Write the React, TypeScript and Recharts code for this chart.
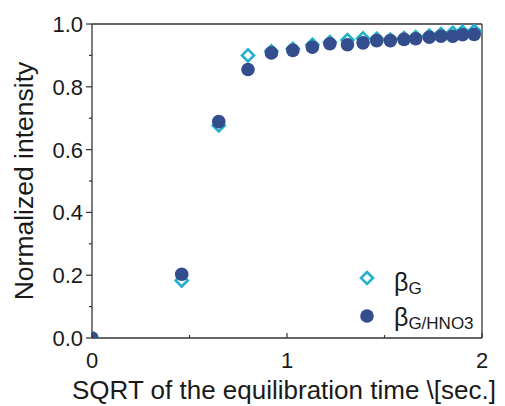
import React from 'react';
import { ScatterChart, Scatter, XAxis, YAxis, ReferenceLine, Legend, Label } from 'recharts';

const xValues = [0, 0.46, 0.65, 0.8, 0.92, 1.03, 1.13, 1.22, 1.31, 1.39, 1.46, 1.53, 1.6, 1.66, 1.73, 1.79, 1.85, 1.9, 1.96];
const betaG = [0, 0.183, 0.677, 0.9, 0.913, 0.921, 0.934, 0.942, 0.949, 0.954, 0.953, 0.95, 0.955, 0.958, 0.963, 0.968, 0.972, 0.975, 0.978];
const betaGHNO3 = [0, 0.203, 0.689, 0.855, 0.908, 0.916, 0.926, 0.937, 0.934, 0.94, 0.947, 0.947, 0.951, 0.953, 0.958, 0.961, 0.961, 0.966, 0.967];

const xTicks = [0, 0.5, 1, 1.5, 2];
const xMajor = [0, 1, 2];
const yTicks = [0, 0.1, 0.2, 0.3, 0.4, 0.5, 0.6, 0.7, 0.8, 0.9, 1.0];
const yMajor = [0, 0.2, 0.4, 0.6, 0.8, 1.0];

const seriesG = xValues.map((x, i) => ({ x, y: betaG[i] }));
const seriesGH = xValues.map((x, i) => ({ x, y: betaGHNO3[i] }));

const CYAN = '#22b0cb';
const NAVY = '#344d8d';
const AXIS = '#333333';
const FONT = '"Liberation Sans", Arial, sans-serif';

const Diamond = (props: any) => {
  const { cx, cy } = props;
  const r = 6;
  return (
    <path
      d={`M${cx},${cy - r} L${cx + r},${cy} L${cx},${cy + r} L${cx - r},${cy} Z`}
      fill="#ffffff"
      stroke={CYAN}
      strokeWidth={2.6}
    />
  );
};

const Dot = (props: any) => {
  const { cx, cy } = props;
  return <circle cx={cx} cy={cy} r={6.8} fill={NAVY} />;
};

const isMajor = (v: number, list: number[]) => list.some((m) => Math.abs(m - v) < 1e-6);

const XTick = (props: any) => {
  const { x, y, payload } = props;
  const major = isMajor(payload.value, xMajor);
  return (
    <g>
      <line x1={x} y1={y} x2={x} y2={y - (major ? 5 : 3)} stroke={AXIS} strokeWidth={1.2} />
      {major && (
        <text x={x} y={y + 30} textAnchor="middle" fontSize={22} fill="#1a1a1a" fontFamily={FONT}>
          {String(payload.value)}
        </text>
      )}
    </g>
  );
};

const YTick = (props: any) => {
  const { x, y, payload } = props;
  const major = isMajor(payload.value, yMajor);
  return (
    <g>
      <line x1={x} y1={y} x2={x - (major ? 6 : 3)} y2={y} stroke={AXIS} strokeWidth={1.2} />
      {major && (
        <text x={x - 9} y={y + 8} textAnchor="end" fontSize={22} fill="#1a1a1a" fontFamily={FONT}>
          {payload.value.toFixed(1)}
        </text>
      )}
    </g>
  );
};

const LegendContent = () => (
  <svg width={150} height={80} style={{ overflow: 'visible' }}>
    <path d="M12,10 L18,16 L12,22 L6,16 Z" fill="#fff" stroke={CYAN} strokeWidth={2.6} />
    <circle cx={12} cy={54} r={6.8} fill={NAVY} />
    <text x={39} y={29} fontFamily={FONT} fill="#1a1a1a">
      <tspan fontSize={25}>β</tspan>
      <tspan fontSize={17} dy={3}>G</tspan>
    </text>
    <text x={39} y={64} fontFamily={FONT} fill="#1a1a1a">
      <tspan fontSize={25}>β</tspan>
      <tspan fontSize={17} dy={3}>G/HNO3</tspan>
    </text>
  </svg>
);

export default function App() {
  return (
    <div style={{ position: 'absolute', left: 0, top: 0, width: 505, height: 406, background: '#fff' }}>
      <ScatterChart width={505} height={406} margin={{ top: 24, right: 23, left: 0, bottom: 0 }}>
        <XAxis
          type="number"
          dataKey="x"
          domain={[0, 2]}
          ticks={xTicks}
          allowDataOverflow
          height={68}
          tickSize={0}
          tickMargin={0}
          tickLine={false}
          tick={<XTick />}
          axisLine={{ stroke: AXIS, strokeWidth: 1.3 }}
        >
          <Label
            content={(p: any) => {
              const vb = p.viewBox;
              return (
                <text x={vb.x + vb.width / 2 - 3} y={vb.y + 61} textAnchor="middle" fontSize={26} fill="#1a1a1a" fontFamily={FONT}>
                  SQRT of the equilibration time \[sec.]
                </text>
              );
            }}
          />
        </XAxis>
        <YAxis
          type="number"
          dataKey="y"
          domain={[0, 1]}
          ticks={yTicks}
          allowDataOverflow
          width={92}
          tickSize={0}
          tickMargin={0}
          tickLine={false}
          tick={<YTick />}
          axisLine={{ stroke: AXIS, strokeWidth: 1.3 }}
        >
          <Label
            content={(p: any) => {
              const vb = p.viewBox;
              const cx = vb.x + 33;
              const cy = vb.y + vb.height / 2;
              return (
                <text x={cx} y={cy} transform={`rotate(-90, ${cx}, ${cy})`} textAnchor="middle" fontSize={26.5} fill="#1a1a1a" fontFamily={FONT}>
                  Normalized intensity
                </text>
              );
            }}
          />
        </YAxis>
        <ReferenceLine y={1} stroke={AXIS} strokeWidth={1.3} />
        <ReferenceLine x={2} stroke={AXIS} strokeWidth={1.3} />
        <Scatter name="βG" data={seriesG} shape={<Diamond />} isAnimationActive={false} />
        <Scatter name="βG/HNO3" data={seriesGH} shape={<Dot />} isAnimationActive={false} />
        <Legend
          layout="vertical"
          align="center"
          verticalAlign="middle"
          content={<LegendContent />}
          wrapperStyle={{ left: 355, top: 262, width: 150, height: 80 }}
        />
      </ScatterChart>
    </div>
  );
}
